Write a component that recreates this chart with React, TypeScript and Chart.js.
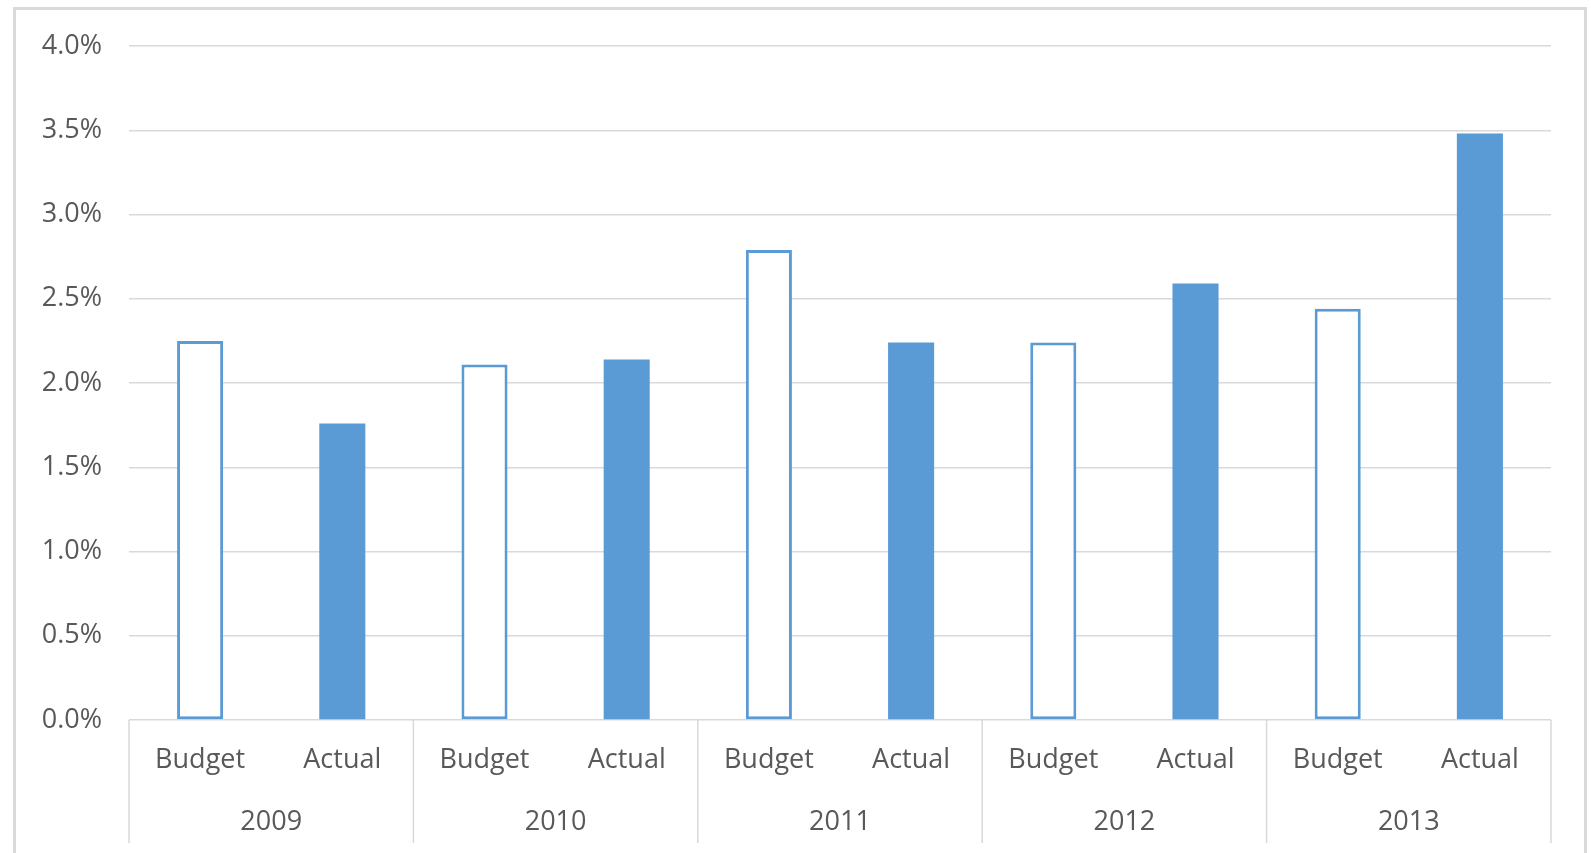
import React, { useEffect, useRef } from 'react';
import Chart from 'chart.js/auto';

// data
const years = ['2009', '2010', '2011', '2012', '2013'];
const kinds = ['Budget', 'Actual'];
const budgetValues = [2.25, 2.11, 2.79, 2.24, 2.44];
const actualValues = [1.76, 2.14, 2.24, 2.59, 3.48];
const yMax = 4;
const yStep = 0.5;

const BLUE = '#5B9BD5';
const GRID = '#d9d9d9';
const TEXT = '#595959';
const FONT = { family: '"Open Sans", sans-serif', size: 27 };

// vertical separators between the year groups, under the plot
const groupLines = {
    id: 'groupLines',
    afterDraw(chart: any) {
        const xs = chart.scales.x;
        const x2 = chart.scales.x2;
        const ctx = chart.ctx;
        const step = (xs.right - xs.left) / years.length;
        ctx.save();
        ctx.strokeStyle = GRID;
        ctx.lineWidth = 1.5;
        ctx.beginPath();
        for (let g = 0; g <= years.length; g++) {
            const x = xs.left + g * step;
            ctx.moveTo(x, chart.chartArea.bottom);
            ctx.lineTo(x, x2.bottom - 3);
        }
        ctx.stroke();
        ctx.restore();
    },
};

const BudgetChart: React.FC = () => {
    const chartRef = useRef<HTMLCanvasElement>(null);
    const chartInstance = useRef<Chart | null>(null);

    useEffect(() => {
        if (!chartRef.current) return;
        if (chartInstance.current) chartInstance.current.destroy();

        const labels = years.flatMap(() => kinds);
        const budgetData = years.flatMap((_, i) => [budgetValues[i], null]);
        const actualData = years.flatMap((_, i) => [null, actualValues[i]]);

        chartInstance.current = new Chart(chartRef.current, {
            type: 'bar',
            data: {
                labels,
                datasets: [
                    {
                        label: 'Budget',
                        data: budgetData,
                        backgroundColor: '#ffffff',
                        borderColor: BLUE,
                        borderWidth: 3,
                        borderSkipped: false,
                        barPercentage: 0.324,
                        categoryPercentage: 1,
                    },
                    {
                        label: 'Actual',
                        data: actualData,
                        backgroundColor: BLUE,
                        borderWidth: 0,
                        barPercentage: 0.324,
                        categoryPercentage: 1,
                    },
                ],
            },
            options: {
                animation: false,
                responsive: true,
                maintainAspectRatio: false,
                layout: { padding: { left: 0, right: 33, top: 36, bottom: 7 } },
                scales: {
                    x: {
                        stacked: true,
                        weight: 0,
                        grid: { display: false, drawTicks: false },
                        border: { display: false },
                        ticks: { color: TEXT, font: FONT, padding: 24, maxRotation: 0, autoSkip: false },
                        afterFit: (scale: any) => { scale.height = 62; },
                    },
                    x2: {
                        type: 'category',
                        labels: years,
                        position: 'bottom',
                        offset: true,
                        weight: 1,
                        grid: { display: false, drawTicks: false },
                        border: { display: false },
                        ticks: { color: TEXT, font: FONT, padding: 24, maxRotation: 0 },
                        afterFit: (scale: any) => { scale.height = 64; },
                    },
                    y: {
                        stacked: true,
                        min: 0,
                        max: yMax,
                        grid: { color: GRID, lineWidth: 1.5, drawTicks: false },
                        border: { display: false },
                        ticks: {
                            stepSize: yStep,
                            color: TEXT,
                            font: FONT,
                            padding: 27,
                            callback: (v: any) => Number(v).toFixed(1) + '%',
                        },
                        afterFit: (scale: any) => {
                            scale.width = 113;
                            scale.paddingTop = 0;
                            scale.paddingBottom = 0;
                        },
                    },
                },
                plugins: {
                    legend: { display: false },
                    title: { display: false },
                    tooltip: { enabled: false },
                },
            },
            plugins: [groupLines],
        });

        return () => {
            if (chartInstance.current) {
                chartInstance.current.destroy();
                chartInstance.current = null;
            }
        };
    }, []);

    return <canvas ref={chartRef}></canvas>;
};

export default function App() {
    return (
        <div style={{ position: 'absolute', left: 0, top: 0, width: 1591, height: 853, overflow: 'hidden', background: '#fff' }}>
            <div style={{ position: 'absolute', left: 13, top: 7, width: 1574, height: 900, border: '3px solid ' + GRID, boxSizing: 'border-box' }} />
            <div style={{ position: 'absolute', left: 16, top: 10, width: 1568, height: 843 }}>
                <BudgetChart />
            </div>
        </div>
    );
}
